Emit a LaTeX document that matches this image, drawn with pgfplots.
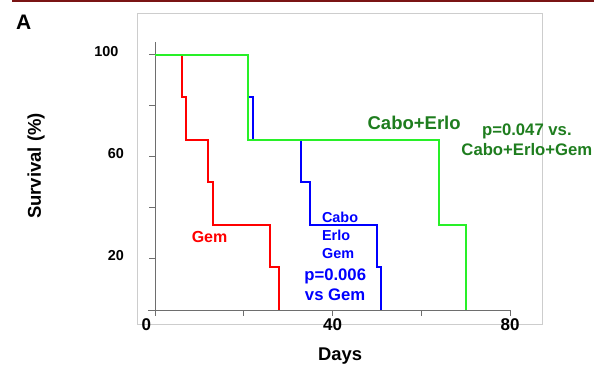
\documentclass[border=0pt]{standalone}
\usepackage{fontspec}
\setmainfont{Liberation Sans}
\usepackage{pgfplots}
\pgfplotsset{compat=1.18}
\definecolor{gemred}{RGB}{255,0,0}
\definecolor{ceblue}{RGB}{0,0,255}
\definecolor{celime}{RGB}{40,240,40}
\definecolor{txtgreen}{RGB}{30,125,30}
\definecolor{darkred}{RGB}{122,20,20}
\definecolor{framegray}{RGB}{205,205,205}
\definecolor{axgray}{RGB}{110,110,110}
\begin{document}
\begin{tikzpicture}[x=1pt,y=1pt]
\path[use as bounding box] (0,0) rectangle (594,364);
\draw[darkred, line width=2.2pt] (12,363) -- (594,363);
\draw[framegray, line width=1pt] (137,39) rectangle (542.5,350);
\node[font=\fontsize{21}{24}\selectfont\bfseries, anchor=base] at (23.7,334.7) {A};
\begin{axis}[
  anchor=south west, at={(147.9pt,52pt)},
  x=4.4375pt, y=2.553pt,
  xmin=-1.6, xmax=80, ymin=-0.8, ymax=105,
  axis lines*=middle,
  axis line style={-, draw=axgray, line width=0.9pt},
  hide obscured x ticks=false, hide obscured y ticks=false,
  tick align=outside,
  major tick length=6pt,
  tick style={axgray, line width=0.8pt},
  xtick={0,20,40,60,80},
  xticklabels={\makebox[0pt][r]{0\hspace{4pt}},,40,,80},
  ytick={20,40,60,80,100},
  yticklabels={20,,60,,\makebox[0pt][r]{100\hspace{5pt}}},
  /pgf/number format/assume math mode=true,
  xticklabel style={font=\fontsize{17}{20}\selectfont\bfseries, inner sep=0pt, yshift=-2pt},
  yticklabel style={font=\fontsize{14.4}{17}\selectfont\bfseries, inner sep=0pt, xshift=-25pt, yshift=3pt},
  clip=false,
  every axis plot/.append style={line width=2pt, line join=miter, line cap=butt},
]
\addplot[gemred, const plot] coordinates {
 (0,100) (6,83.3) (7,66.7) (12,50) (13,33.3) (26,16.7) (28,0)};
\addplot[ceblue, const plot] coordinates {
 (0,100) (21,83.3) (22,66.7) (33,50) (35,33.3) (50,16.7) (51,0)};
\addplot[celime, const plot] coordinates {
 (0,100) (21,66.7) (64,33.3) (70,0)};
\node[gemred, font=\fontsize{16}{19}\selectfont\bfseries] at (axis cs:12.3,28.7) {Gem};
\node[ceblue, font=\fontsize{14.4}{18}\selectfont\bfseries, anchor=west, align=left, inner sep=0pt] at (axis cs:37.6,29.4) {Cabo\\Erlo\\Gem};
\node[ceblue, font=\fontsize{16.7}{20}\selectfont\bfseries, align=center, inner sep=0pt] at (axis cs:40.6,9.8) {p=0.006\\vs Gem};
\node[txtgreen, font=\fontsize{18.5}{21}\selectfont\bfseries, inner sep=0pt] at (axis cs:58.4,73.2) {Cabo+Erlo};
\node[txtgreen, font=\fontsize{16.7}{20}\selectfont\bfseries, align=center, inner sep=0pt] at (axis cs:83.8,66.6) {p=0.047 vs.\\Cabo+Erlo+Gem};
\end{axis}
\node[font=\fontsize{18.5}{21}\selectfont\bfseries, rotate=90] at (36,198) {Survival (\%)};
\node[font=\fontsize{18.4}{21}\selectfont\bfseries, anchor=base] at (340,3.5) {Days};
\end{tikzpicture}
\end{document}
